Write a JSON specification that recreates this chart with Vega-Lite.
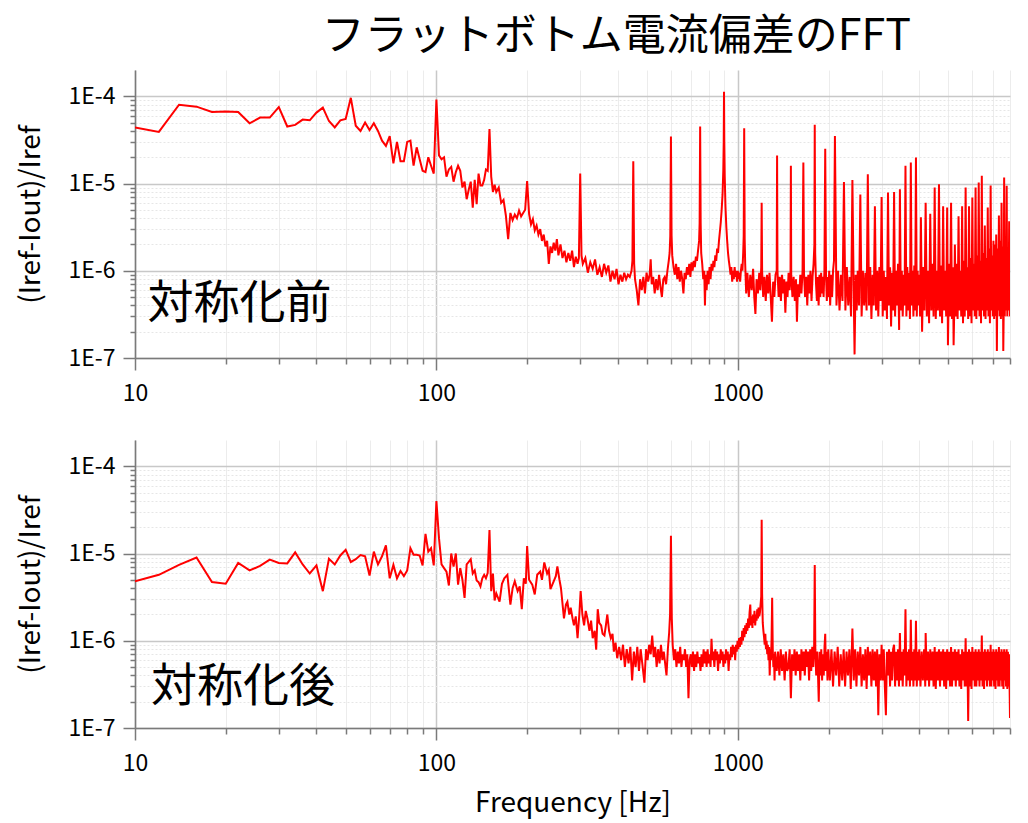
{
"$schema": "https://vega.github.io/schema/vega-lite/v6.json",
"background": "white",
"padding": {"left": 17, "top": 16, "right": 14, "bottom": 2},
"title": {"text": "フラットボトム電流偏差のFFT", "font": "Noto Sans CJK JP", "fontSize": 43, "fontWeight": "normal", "color": "#000000", "anchor": "middle", "dx": 102, "offset": 11},
"spacing": 35,
"datasets": {
"before": [
{"f":10,"v":44e-6},{"f":12,"v":39e-6},{"f":14,"v":80e-6},{"f":16,"v":76e-6},{"f":18,"v":66e-6},{"f":20,"v":67e-6},{"f":22,"v":66e-6},{"f":24,"v":49e-6},{"f":26,"v":57e-6},{"f":28,"v":57e-6},{"f":30,"v":75e-6},{"f":32,"v":45e-6},{"f":34,"v":47e-6},{"f":36,"v":54e-6},{"f":38,"v":53e-6},{"f":40,"v":65e-6},{"f":42,"v":74e-6},{"f":44,"v":52e-6},{"f":46,"v":44e-6},{"f":48,"v":53e-6},{"f":50,"v":55e-6},{"f":52,"v":96e-6},{"f":54,"v":46e-6},{"f":56,"v":40e-6},{"f":58,"v":50e-6},{"f":60,"v":41e-6},{"f":62,"v":49e-6},{"f":64,"v":40e-6},{"f":66,"v":31e-6},{"f":68,"v":27e-6},{"f":70,"v":35e-6},{"f":72,"v":17e-6},{"f":74,"v":30e-6},{"f":76,"v":18e-6},{"f":78,"v":18e-6},{"f":80,"v":30e-6},{"f":82,"v":31e-6},{"f":84,"v":16e-6},{"f":86,"v":26e-6},{"f":88,"v":19e-6},{"f":90,"v":14e-6},{"f":92,"v":13.5e-6},{"f":94,"v":20e-6},{"f":96,"v":16e-6},{"f":98,"v":13e-6},{"f":100,"v":92e-6},{"f":102,"v":21e-6},{"f":104,"v":19e-6},{"f":106,"v":20e-6},{"f":108,"v":12e-6},{"f":110,"v":14.5e-6},{"f":112,"v":15.5e-6},{"f":114,"v":10.5e-6},{"f":116,"v":13.5e-6},{"f":118,"v":16e-6},{"f":120,"v":14e-6},{"f":122,"v":9e-6},{"f":124,"v":10.5e-6},{"f":126,"v":6.6e-6},{"f":128,"v":8.5e-6},{"f":130,"v":10.5e-6},{"f":132,"v":5.3e-6},{"f":134,"v":11e-6},{"f":136,"v":5.8e-6},{"f":138,"v":13e-6},{"f":140,"v":9.5e-6},{"f":142,"v":9.5e-6},{"f":144,"v":11e-6},{"f":146,"v":14.5e-6},{"f":148,"v":14e-6},{"f":150,"v":42e-6},{"f":152,"v":12e-6},{"f":154,"v":8e-6},{"f":156,"v":9.7e-6},
{"f":158,"v":8e-6},{"f":161,"v":9e-6},{"f":164,"v":6e-6},{"f":167,"v":6.5e-6},{"f":170,"v":4.3e-6},{"f":173,"v":2.3e-6},{"f":176,"v":4.6e-6},{"f":179,"v":3.8e-6},{"f":182,"v":4.4e-6},{"f":185,"v":4e-6},{"f":188,"v":4.9e-6},{"f":191,"v":4.2e-6},{"f":194,"v":4.6e-6},{"f":197,"v":5e-6},{"f":200,"v":10.7e-6},{"f":203,"v":4.5e-6},{"f":206,"v":3.4e-6},{"f":209,"v":3.9e-6},{"f":212,"v":2.9e-6},{"f":215,"v":3.3e-6},{"f":218,"v":2.6e-6},{"f":221,"v":3e-6},{"f":224,"v":2.2e-6},{"f":227,"v":2.6e-6},{"f":230,"v":1.9e-6},{"f":233,"v":2.2e-6},{"f":236,"v":1.2e-6},{"f":239,"v":1.9e-6},{"f":242,"v":1.6e-6},{"f":245,"v":2.1e-6},{"f":248,"v":1.7e-6},{"f":251,"v":2.3e-6},{"f":254,"v":1.5e-6},{"f":258,"v":2e-6},{"f":262,"v":1.4e-6},{"f":266,"v":1.7e-6},{"f":270,"v":1.25e-6},{"f":274,"v":1.6e-6},{"f":278,"v":1.3e-6},{"f":282,"v":1.7e-6},{"f":286,"v":1.1e-6},{"f":290,"v":1.45e-6},{"f":294,"v":1.2e-6},{"f":297,"v":1.4e-6},{"f":300,"v":13e-6},{"f":303,"v":1.5e-6},
{"f":306,"v":1.2e-6},{"f":312,"v":1.4e-6},{"f":318,"v":0.95e-6},{"f":324,"v":1.25e-6},{"f":330,"v":1.05e-6},{"f":336,"v":1.35e-6},{"f":342,"v":0.9e-6},{"f":348,"v":1.1e-6},{"f":354,"v":0.85e-6},{"f":360,"v":1.2e-6},{"f":366,"v":0.95e-6},{"f":372,"v":1.15e-6},{"f":378,"v":0.75e-6},{"f":384,"v":1e-6},{"f":390,"v":0.8e-6},{"f":396,"v":1.05e-6},{"f":402,"v":0.7e-6},{"f":408,"v":0.9e-6},{"f":414,"v":0.75e-6},{"f":420,"v":0.95e-6},{"f":426,"v":0.8e-6},{"f":432,"v":0.9e-6},{"f":438,"v":0.85e-6},{"f":444,"v":1e-6},{"f":447,"v":1.3e-6},{"f":450,"v":18e-6},{"f":453,"v":1.2e-6},{"f":456,"v":0.8e-6},{"f":462,"v":0.6e-6},{"f":468,"v":0.4e-6},{"f":474,"v":0.8e-6},{"f":480,"v":0.6e-6},{"f":486,"v":0.85e-6},{"f":492,"v":0.55e-6},{"f":498,"v":0.95e-6},{"f":504,"v":0.75e-6},{"f":510,"v":0.9e-6},{"f":514,"v":1.35e-6},{"f":518,"v":0.7e-6},{"f":524,"v":0.85e-6},{"f":530,"v":0.55e-6},{"f":536,"v":0.8e-6},{"f":542,"v":0.6e-6},{"f":548,"v":0.9e-6},{"f":554,"v":0.65e-6},{"f":560,"v":0.5e-6},{"f":566,"v":0.8e-6},{"f":572,"v":0.85e-6},{"f":578,"v":0.7e-6},{"f":584,"v":1e-6},{"f":590,"v":1.3e-6},{"f":594,"v":1.6e-6},{"f":597,"v":2.5e-6},{"f":600,"v":34.5e-6},{"f":603,"v":2.5e-6},{"f":606,"v":1.5e-6},
{"f":612,"v":1.1e-6},{"f":618,"v":0.9e-6},{"f":624,"v":1.2e-6},{"f":630,"v":0.8e-6},{"f":636,"v":1.1e-6},{"f":642,"v":0.75e-6},{"f":648,"v":1e-6},{"f":654,"v":0.8e-6},{"f":660,"v":0.55e-6},{"f":666,"v":0.95e-6},{"f":672,"v":0.8e-6},{"f":678,"v":1.1e-6},{"f":684,"v":0.9e-6},{"f":690,"v":1.2e-6},{"f":696,"v":0.85e-6},{"f":702,"v":1.25e-6},{"f":708,"v":1e-6},{"f":714,"v":1.3e-6},{"f":720,"v":1.1e-6},{"f":726,"v":1.45e-6},{"f":732,"v":1.3e-6},{"f":738,"v":1.7e-6},{"f":744,"v":2.2e-6},{"f":747,"v":3.5e-6},{"f":750,"v":45e-6},{"f":753,"v":3.5e-6},{"f":756,"v":1.6e-6},{"f":762,"v":1.2e-6},{"f":768,"v":0.8e-6},{"f":774,"v":1e-6},{"f":778,"v":0.4e-6},{"f":782,"v":0.9e-6},{"f":788,"v":0.6e-6},{"f":794,"v":1e-6},{"f":800,"v":0.7e-6},{"f":806,"v":1.1e-6},{"f":812,"v":0.8e-6},{"f":818,"v":1.2e-6},{"f":824,"v":1e-6},{"f":830,"v":1.3e-6},{"f":836,"v":1.1e-6},{"f":842,"v":1.5e-6},{"f":848,"v":1.3e-6},{"f":854,"v":1.8e-6},{"f":860,"v":1.6e-6},{"f":866,"v":2.2e-6},{"f":872,"v":2.8e-6},{"f":878,"v":3.6e-6},{"f":884,"v":5e-6},{"f":890,"v":7.5e-6},{"f":895,"v":14e-6},{"f":898,"v":30e-6},{"f":900,"v":113e-6},{"f":902,"v":30e-6},{"f":905,"v":12e-6},{"f":910,"v":5.5e-6},{"f":916,"v":3.2e-6},{"f":922,"v":2.2e-6},{"f":928,"v":1.6e-6},{"f":934,"v":1.3e-6},{"f":940,"v":1.1e-6},{"f":946,"v":0.9e-6},{"f":952,"v":1.1e-6},{"f":958,"v":0.75e-6},{"f":964,"v":1e-6},{"f":970,"v":0.8e-6},{"f":976,"v":1.1e-6},{"f":982,"v":0.85e-6},{"f":988,"v":1e-6},{"f":994,"v":0.75e-6},{"f":1000,"v":1e-6},{"f":1006,"v":0.8e-6},{"f":1012,"v":0.95e-6},{"f":1018,"v":0.75e-6},{"f":1024,"v":1e-6},{"f":1030,"v":1.2e-6},{"f":1036,"v":1e-6},{"f":1042,"v":1.6e-6},{"f":1046,"v":2.5e-6},{"f":1050,"v":43e-6},{"f":1054,"v":2.3e-6},{"f":1058,"v":1.2e-6},
{"f":1066,"v":0.55e-6},{"f":1076,"v":0.95e-6},{"f":1088,"v":0.5e-6},{"f":1100,"v":0.9e-6},{"f":1112,"v":0.6e-6},{"f":1124,"v":1.05e-6},{"f":1134,"v":0.5e-6},{"f":1144,"v":0.32e-6},{"f":1154,"v":0.8e-6},{"f":1166,"v":0.55e-6},{"f":1178,"v":0.95e-6},{"f":1188,"v":0.6e-6},{"f":1196,"v":1.1e-6},{"f":1200,"v":6e-6},{"f":1204,"v":1e-6},{"f":1214,"v":0.5e-6},{"f":1226,"v":0.85e-6},{"f":1238,"v":0.45e-6},{"f":1250,"v":0.9e-6},{"f":1262,"v":0.55e-6},{"f":1274,"v":0.95e-6},{"f":1286,"v":0.5e-6},{"f":1298,"v":0.26e-6},{"f":1310,"v":0.75e-6},{"f":1322,"v":0.5e-6},{"f":1334,"v":0.9e-6},{"f":1346,"v":1e-6},{"f":1350,"v":21e-6},{"f":1354,"v":1e-6},{"f":1366,"v":0.5e-6},{"f":1378,"v":0.85e-6},{"f":1390,"v":0.45e-6},{"f":1402,"v":0.9e-6},{"f":1414,"v":0.55e-6},{"f":1426,"v":0.8e-6},{"f":1438,"v":0.33e-6},{"f":1450,"v":0.75e-6},{"f":1462,"v":0.5e-6},{"f":1474,"v":0.95e-6},{"f":1486,"v":0.6e-6},{"f":1496,"v":1e-6},{"f":1500,"v":16e-6},{"f":1504,"v":0.9e-6},{"f":1518,"v":0.5e-6},{"f":1532,"v":0.85e-6},{"f":1546,"v":0.45e-6},{"f":1560,"v":0.8e-6},{"f":1571,"v":0.26e-6},{"f":1584,"v":0.7e-6},{"f":1598,"v":0.5e-6},{"f":1612,"v":0.9e-6},{"f":1626,"v":0.55e-6},{"f":1640,"v":1e-6},{"f":1650,"v":17.4e-6},{"f":1658,"v":0.95e-6},{"f":1672,"v":0.5e-6},{"f":1686,"v":0.85e-6},{"f":1700,"v":0.4e-6},{"f":1714,"v":0.9e-6},{"f":1728,"v":0.55e-6},{"f":1742,"v":1e-6},{"f":1756,"v":0.45e-6},{"f":1770,"v":0.85e-6},{"f":1784,"v":1.2e-6},{"f":1795,"v":2e-6},{"f":1800,"v":47e-6},{"f":1806,"v":1.6e-6},{"f":1818,"v":0.7e-6},{"f":1830,"v":0.45e-6},{"f":1842,"v":0.85e-6},{"f":1854,"v":0.4e-6},{"f":1866,"v":0.9e-6},{"f":1878,"v":0.5e-6},{"f":1890,"v":0.95e-6},{"f":1902,"v":0.55e-6},{"f":1914,"v":0.85e-6},{"f":1926,"v":0.5e-6},{"f":1938,"v":1e-6},{"f":1950,"v":25e-6},{"f":1962,"v":0.9e-6},{"f":1974,"v":0.45e-6},{"f":1986,"v":0.85e-6},{"f":1998,"v":0.5e-6},
{"f":2010,"v":1e-6},{"f":2025,"v":0.4e-6},{"f":2040,"v":0.9e-6},{"f":2055,"v":0.5e-6},{"f":2070,"v":1e-6},{"f":2085,"v":1.3e-6},{"f":2100,"v":35e-6},{"f":2125,"v":0.4e-6},{"f":2150,"v":1e-6},{"f":2175,"v":0.35e-6},{"f":2200,"v":0.9e-6},{"f":2225,"v":0.45e-6},{"f":2250,"v":10.4e-6},{"f":2275,"v":0.35e-6},{"f":2300,"v":1.1e-6},{"f":2325,"v":0.4e-6},{"f":2350,"v":0.85e-6},{"f":2375,"v":0.3e-6},{"f":2400,"v":11e-6},{"f":2425,"v":0.5e-6},{"f":2440,"v":0.11e-6},{"f":2460,"v":0.9e-6},{"f":2480,"v":0.35e-6},{"f":2500,"v":1e-6},{"f":2525,"v":0.4e-6},{"f":2550,"v":7.5e-6},{"f":2575,"v":0.3e-6},{"f":2600,"v":1e-6},{"f":2625,"v":0.4e-6},{"f":2650,"v":0.95e-6},{"f":2675,"v":0.35e-6},{"f":2700,"v":12.8e-6},{"f":2725,"v":0.4e-6},{"f":2750,"v":1.1e-6},{"f":2775,"v":0.28e-6},{"f":2800,"v":0.9e-6},{"f":2825,"v":0.4e-6},{"f":2850,"v":5.5e-6},{"f":2875,"v":0.35e-6},{"f":2900,"v":1e-6},{"f":2925,"v":0.3e-6},{"f":2950,"v":1.1e-6},{"f":2975,"v":0.45e-6},{"f":3000,"v":7e-6},{"f":3025,"v":0.3e-6},{"f":3050,"v":1e-6},{"f":3075,"v":0.35e-6},{"f":3100,"v":0.85e-6},{"f":3125,"v":0.28e-6},{"f":3150,"v":7.9e-6},{"f":3175,"v":0.4e-6},{"f":3200,"v":1.1e-6},{"f":3225,"v":0.23e-6},{"f":3250,"v":0.95e-6},{"f":3275,"v":0.35e-6},{"f":3300,"v":8e-6},{"f":3325,"v":0.3e-6},{"f":3350,"v":1e-6},{"f":3375,"v":0.4e-6},{"f":3400,"v":1.2e-6},{"f":3430,"v":0.21e-6},{"f":3450,"v":8.6e-6},{"f":3475,"v":0.35e-6},{"f":3500,"v":1e-6},{"f":3525,"v":0.3e-6},{"f":3550,"v":0.9e-6},{"f":3575,"v":0.4e-6},{"f":3600,"v":16e-6},{"f":3625,"v":0.3e-6},{"f":3650,"v":1.1e-6},{"f":3675,"v":0.35e-6},{"f":3700,"v":0.95e-6},{"f":3725,"v":0.28e-6},{"f":3750,"v":17.4e-6},{"f":3775,"v":0.4e-6},{"f":3800,"v":1e-6},{"f":3825,"v":0.3e-6},{"f":3850,"v":1.15e-6},{"f":3875,"v":0.35e-6},{"f":3900,"v":19.8e-6},{"f":3925,"v":0.3e-6},{"f":3950,"v":1e-6},{"f":3975,"v":0.4e-6},{"f":4000,"v":0.9e-6},{"f":4025,"v":0.3e-6},{"f":4050,"v":4.1e-6},
{"f":4087,"v":0.2e-6},{"f":4125,"v":1.1e-6},{"f":4162,"v":0.35e-6},{"f":4200,"v":6e-6},{"f":4237,"v":0.3e-6},{"f":4275,"v":1e-6},{"f":4312,"v":0.25e-6},{"f":4350,"v":4.5e-6},{"f":4387,"v":0.35e-6},{"f":4425,"v":1.2e-6},{"f":4462,"v":0.3e-6},{"f":4500,"v":9e-6},{"f":4537,"v":0.28e-6},{"f":4575,"v":1e-6},{"f":4612,"v":0.35e-6},{"f":4650,"v":9.8e-6},{"f":4687,"v":0.3e-6},{"f":4725,"v":1.15e-6},{"f":4762,"v":0.25e-6},{"f":4800,"v":5.5e-6},{"f":4837,"v":0.35e-6},{"f":4875,"v":1e-6},{"f":4912,"v":0.3e-6},{"f":4950,"v":5.3e-6},{"f":4980,"v":0.14e-6},{"f":5025,"v":1.2e-6},{"f":5062,"v":0.3e-6},{"f":5100,"v":6e-6},{"f":5137,"v":0.28e-6},{"f":5175,"v":1.1e-6},{"f":5200,"v":0.14e-6},{"f":5225,"v":0.35e-6},{"f":5250,"v":2e-6},{"f":5287,"v":0.3e-6},{"f":5325,"v":1.2e-6},{"f":5362,"v":0.28e-6},{"f":5400,"v":4.2e-6},{"f":5437,"v":0.35e-6},{"f":5475,"v":1e-6},{"f":5512,"v":0.3e-6},{"f":5550,"v":5.5e-6},{"f":5587,"v":0.25e-6},{"f":5625,"v":1.3e-6},{"f":5662,"v":0.3e-6},{"f":5700,"v":9e-6},{"f":5737,"v":0.35e-6},{"f":5775,"v":1.1e-6},{"f":5812,"v":0.28e-6},{"f":5850,"v":5.5e-6},{"f":5887,"v":0.3e-6},{"f":5925,"v":1.4e-6},{"f":5962,"v":0.25e-6},{"f":6000,"v":6.9e-6},{"f":6037,"v":0.35e-6},{"f":6075,"v":1.2e-6},{"f":6112,"v":0.3e-6},{"f":6150,"v":9e-6},{"f":6187,"v":0.28e-6},{"f":6225,"v":1.5e-6},{"f":6262,"v":0.35e-6},{"f":6300,"v":10.3e-6},{"f":6337,"v":0.3e-6},{"f":6375,"v":1.3e-6},{"f":6412,"v":0.25e-6},{"f":6450,"v":12.3e-6},{"f":6487,"v":0.35e-6},{"f":6525,"v":1.6e-6},{"f":6562,"v":0.3e-6},{"f":6600,"v":3.3e-6},{"f":6637,"v":0.28e-6},{"f":6675,"v":1.4e-6},{"f":6712,"v":0.35e-6},{"f":6750,"v":5.3e-6},{"f":6787,"v":0.3e-6},{"f":6825,"v":1.8e-6},{"f":6862,"v":0.25e-6},{"f":6900,"v":9.5e-6},{"f":6937,"v":0.35e-6},{"f":6975,"v":1.5e-6},{"f":7012,"v":0.3e-6},{"f":7050,"v":2.2e-6},{"f":7087,"v":0.28e-6},{"f":7125,"v":2e-6},{"f":7162,"v":0.3e-6},{"f":7200,"v":2.6e-6},{"f":7237,"v":0.12e-6},{"f":7275,"v":1.8e-6},{"f":7312,"v":0.35e-6},{"f":7350,"v":4.3e-6},{"f":7387,"v":0.3e-6},{"f":7425,"v":2.2e-6},{"f":7462,"v":0.28e-6},{"f":7500,"v":6e-6},{"f":7537,"v":0.3e-6},{"f":7575,"v":1.9e-6},{"f":7600,"v":0.12e-6},{"f":7625,"v":0.35e-6},{"f":7650,"v":11.7e-6},{"f":7687,"v":0.3e-6},{"f":7725,"v":2e-6},{"f":7762,"v":0.35e-6},{"f":7800,"v":9.4e-6},{"f":7837,"v":0.3e-6},{"f":7875,"v":1.5e-6},{"f":7912,"v":0.35e-6},{"f":7950,"v":3.7e-6},{"f":8000,"v":0.3e-6}
],
"after": [
{"f":10,"v":4.8e-6},{"f":12,"v":5.7e-6},{"f":14,"v":7.4e-6},{"f":16,"v":9e-6},{"f":18,"v":4.7e-6},{"f":20,"v":4.5e-6},{"f":22,"v":7.8e-6},{"f":24,"v":6.4e-6},{"f":26,"v":7.2e-6},{"f":28,"v":8.5e-6},{"f":30,"v":7.8e-6},{"f":32,"v":7.7e-6},{"f":34,"v":10.3e-6},{"f":36,"v":7.5e-6},{"f":38,"v":5.9e-6},{"f":40,"v":7.3e-6},{"f":42,"v":3.7e-6},{"f":44,"v":8.7e-6},{"f":46,"v":7.5e-6},{"f":48,"v":9.5e-6},{"f":50,"v":11e-6},{"f":52,"v":8e-6},{"f":54,"v":8.6e-6},{"f":56,"v":9.6e-6},{"f":58,"v":9.3e-6},{"f":60,"v":5.6e-6},{"f":62,"v":10.5e-6},{"f":64,"v":7.5e-6},{"f":66,"v":9.3e-6},{"f":68,"v":12.4e-6},{"f":70,"v":5.2e-6},{"f":72,"v":7.4e-6},{"f":74,"v":5.2e-6},{"f":76,"v":6.3e-6},{"f":78,"v":5.5e-6},{"f":80,"v":6.4e-6},{"f":82,"v":11.5e-6},{"f":84,"v":9.7e-6},{"f":86,"v":9.7e-6},{"f":88,"v":9.5e-6},{"f":90,"v":7.3e-6},{"f":92,"v":16.8e-6},{"f":94,"v":10.5e-6},{"f":96,"v":11.5e-6},{"f":98,"v":7.3e-6},{"f":100,"v":40e-6},{"f":102,"v":15e-6},{"f":104,"v":7.5e-6},{"f":106,"v":6.8e-6},{"f":108,"v":6.2e-6},{"f":110,"v":4.3e-6},{"f":112,"v":10e-6},{"f":114,"v":7.1e-6},{"f":116,"v":10e-6},{"f":118,"v":4.4e-6},{"f":120,"v":6.8e-6},{"f":122,"v":5e-6},{"f":124,"v":3.1e-6},{"f":126,"v":7.5e-6},{"f":128,"v":8e-6},{"f":130,"v":8.6e-6},{"f":132,"v":5.9e-6},{"f":134,"v":6.4e-6},{"f":136,"v":4.9e-6},{"f":138,"v":4.7e-6},{"f":140,"v":4.2e-6},{"f":142,"v":5.2e-6},{"f":144,"v":5.7e-6},{"f":146,"v":5.2e-6},{"f":148,"v":6e-6},{"f":150,"v":18.6e-6},{"f":152,"v":3.7e-6},{"f":154,"v":5.9e-6},{"f":156,"v":2.9e-6},
{"f":158,"v":3.5e-6},{"f":162,"v":2.8e-6},{"f":165,"v":4.5e-6},{"f":168,"v":5.2e-6},{"f":172,"v":5.7e-6},{"f":176,"v":2.6e-6},{"f":179,"v":4e-6},{"f":182,"v":4.8e-6},{"f":186,"v":3.7e-6},{"f":189,"v":4.2e-6},{"f":192,"v":2.3e-6},{"f":195,"v":5.2e-6},{"f":198,"v":4.5e-6},{"f":200,"v":12.2e-6},{"f":203,"v":5e-6},{"f":208,"v":4.4e-6},{"f":212,"v":3.4e-6},{"f":216,"v":5.7e-6},{"f":221,"v":6.2e-6},{"f":224,"v":5e-6},{"f":228,"v":7.9e-6},{"f":233,"v":5.9e-6},{"f":236,"v":6.5e-6},{"f":239,"v":3.9e-6},{"f":245,"v":4.8e-6},{"f":249,"v":5.5e-6},{"f":252,"v":7.1e-6},{"f":256,"v":5e-6},{"f":259,"v":4e-6},{"f":265,"v":1.8e-6},{"f":269,"v":2.6e-6},{"f":272,"v":2.8e-6},{"f":276,"v":2e-6},{"f":279,"v":2.4e-6},{"f":283,"v":1.8e-6},{"f":286,"v":1.5e-6},{"f":290,"v":1.9e-6},{"f":294,"v":1.07e-6},{"f":298,"v":2e-6},{"f":301,"v":3.7e-6},{"f":305,"v":2e-6},{"f":309,"v":1.5e-6},{"f":313,"v":2.2e-6},{"f":317,"v":1.8e-6},{"f":322,"v":1.3e-6},{"f":326,"v":1.7e-6},{"f":330,"v":1.07e-6},{"f":335,"v":1.3e-6},{"f":339,"v":0.79e-6},{"f":343,"v":2.3e-6},{"f":347,"v":1.6e-6},{"f":352,"v":1.5e-6},{"f":356,"v":1.2e-6},{"f":361,"v":1.15e-6},{"f":365,"v":1.5e-6},{"f":369,"v":2e-6},{"f":374,"v":1.3e-6},{"f":379,"v":1.07e-6},{"f":384,"v":1.2e-6},{"f":388,"v":0.75e-6},{"f":393,"v":0.95e-6},{"f":398,"v":0.63e-6},
{"f":404,"v":0.85e-6},{"f":410,"v":0.6e-6},{"f":416,"v":0.9e-6},{"f":422,"v":0.5e-6},{"f":428,"v":0.8e-6},{"f":434,"v":0.55e-6},{"f":440,"v":0.85e-6},{"f":446,"v":0.35e-6},{"f":452,"v":0.75e-6},{"f":458,"v":0.5e-6},{"f":464,"v":0.85e-6},{"f":470,"v":0.45e-6},{"f":476,"v":0.8e-6},{"f":482,"v":0.55e-6},{"f":490,"v":0.33e-6},{"f":496,"v":0.8e-6},{"f":502,"v":0.6e-6},{"f":508,"v":0.9e-6},{"f":514,"v":0.7e-6},{"f":520,"v":1.15e-6},{"f":526,"v":0.65e-6},{"f":532,"v":0.85e-6},{"f":538,"v":0.5e-6},{"f":544,"v":0.8e-6},{"f":550,"v":0.55e-6},{"f":556,"v":0.9e-6},{"f":562,"v":0.6e-6},{"f":568,"v":0.75e-6},{"f":574,"v":0.55e-6},{"f":580,"v":0.4e-6},{"f":586,"v":0.8e-6},{"f":592,"v":1.25e-6},{"f":596,"v":2e-6},{"f":600,"v":16e-6},{"f":604,"v":1.8e-6},{"f":608,"v":0.9e-6},{"f":614,"v":0.6e-6},{"f":620,"v":0.8e-6},{"f":626,"v":0.5e-6},{"f":632,"v":0.75e-6},{"f":638,"v":0.55e-6},{"f":644,"v":0.85e-6},{"f":650,"v":0.5e-6},{"f":656,"v":0.7e-6},{"f":662,"v":0.6e-6},{"f":668,"v":0.8e-6},{"f":674,"v":0.5e-6},{"f":680,"v":0.7e-6},{"f":686,"v":0.22e-6},{"f":692,"v":0.6e-6},{"f":698,"v":0.7e-6},{"f":704,"v":0.5e-6},{"f":710,"v":0.75e-6},{"f":716,"v":0.45e-6},{"f":722,"v":0.7e-6},{"f":728,"v":0.5e-6},{"f":734,"v":0.75e-6},{"f":740,"v":0.55e-6},{"f":746,"v":0.65e-6},{"f":752,"v":0.45e-6},{"f":758,"v":0.7e-6},{"f":764,"v":0.5e-6},{"f":770,"v":0.8e-6},{"f":776,"v":0.55e-6},{"f":782,"v":0.75e-6},{"f":788,"v":0.5e-6},{"f":794,"v":0.8e-6},{"f":800,"v":0.55e-6},{"f":806,"v":0.7e-6},{"f":812,"v":0.5e-6},{"f":818,"v":1.05e-6},{"f":824,"v":0.6e-6},{"f":830,"v":0.75e-6},{"f":836,"v":0.5e-6},{"f":842,"v":0.8e-6},{"f":848,"v":0.6e-6},{"f":854,"v":0.75e-6},{"f":860,"v":0.45e-6},{"f":866,"v":0.7e-6},{"f":872,"v":0.55e-6},{"f":878,"v":0.8e-6},{"f":884,"v":0.6e-6},{"f":890,"v":0.75e-6},{"f":896,"v":0.5e-6},{"f":902,"v":0.7e-6},{"f":908,"v":0.55e-6},{"f":914,"v":0.8e-6},{"f":920,"v":0.6e-6},{"f":926,"v":0.75e-6},{"f":932,"v":0.45e-6},{"f":938,"v":0.7e-6},{"f":944,"v":0.6e-6},{"f":950,"v":0.85e-6},{"f":956,"v":0.65e-6},{"f":962,"v":0.9e-6},{"f":968,"v":0.7e-6},{"f":974,"v":0.85e-6},{"f":980,"v":0.6e-6},{"f":986,"v":0.9e-6},{"f":992,"v":0.75e-6},{"f":998,"v":1e-6},
{"f":1004,"v":0.8e-6},{"f":1010,"v":1.07e-6},{"f":1016,"v":0.85e-6},{"f":1022,"v":1.1e-6},{"f":1028,"v":0.9e-6},{"f":1034,"v":1.3e-6},{"f":1040,"v":1e-6},{"f":1046,"v":1.4e-6},{"f":1052,"v":1.1e-6},{"f":1058,"v":1.5e-6},{"f":1064,"v":1.2e-6},{"f":1070,"v":1.6e-6},{"f":1076,"v":1.3e-6},{"f":1082,"v":1.8e-6},{"f":1088,"v":1.4e-6},{"f":1094,"v":2.1e-6},{"f":1100,"v":2.6e-6},{"f":1106,"v":1.5e-6},{"f":1112,"v":1.9e-6},{"f":1118,"v":1.4e-6},{"f":1124,"v":2e-6},{"f":1130,"v":1.6e-6},{"f":1136,"v":2.2e-6},{"f":1142,"v":1.5e-6},{"f":1148,"v":2e-6},{"f":1154,"v":1.7e-6},{"f":1160,"v":2.3e-6},{"f":1166,"v":1.8e-6},{"f":1172,"v":2.4e-6},{"f":1178,"v":1.9e-6},{"f":1184,"v":2.1e-6},{"f":1190,"v":2.6e-6},{"f":1196,"v":3.2e-6},{"f":1200,"v":24.3e-6},{"f":1204,"v":3.5e-6},{"f":1210,"v":1.6e-6},{"f":1216,"v":1.3e-6},{"f":1222,"v":1.1e-6},{"f":1228,"v":0.9e-6},{"f":1234,"v":1.2e-6},{"f":1240,"v":0.8e-6},{"f":1246,"v":1e-6},{"f":1252,"v":0.7e-6},{"f":1258,"v":0.9e-6},{"f":1264,"v":0.6e-6},{"f":1270,"v":0.85e-6},{"f":1276,"v":0.4e-6},{"f":1282,"v":0.8e-6},{"f":1288,"v":0.6e-6},{"f":1294,"v":1e-6},{"f":1300,"v":3.1e-6},{"f":1306,"v":0.8e-6},{"f":1312,"v":0.5e-6},{"f":1318,"v":0.7e-6},{"f":1324,"v":0.35e-6},{"f":1330,"v":0.75e-6},
{"f":1346,"v":0.45e-6},{"f":1360,"v":0.75e-6},{"f":1374,"v":0.4e-6},{"f":1388,"v":0.8e-6},{"f":1402,"v":0.45e-6},{"f":1416,"v":0.7e-6},{"f":1430,"v":0.35e-6},{"f":1444,"v":0.75e-6},{"f":1458,"v":0.45e-6},{"f":1472,"v":0.5e-6},{"f":1486,"v":0.8e-6},{"f":1500,"v":0.22e-6},{"f":1514,"v":0.7e-6},{"f":1528,"v":0.45e-6},{"f":1542,"v":0.8e-6},{"f":1556,"v":0.4e-6},{"f":1570,"v":0.75e-6},{"f":1584,"v":0.45e-6},{"f":1598,"v":0.7e-6},{"f":1612,"v":0.35e-6},{"f":1626,"v":0.8e-6},{"f":1640,"v":0.45e-6},{"f":1654,"v":0.75e-6},{"f":1668,"v":0.4e-6},{"f":1682,"v":0.8e-6},{"f":1696,"v":0.5e-6},{"f":1710,"v":0.75e-6},{"f":1724,"v":0.35e-6},{"f":1738,"v":0.8e-6},{"f":1752,"v":0.45e-6},{"f":1766,"v":0.85e-6},{"f":1780,"v":0.5e-6},{"f":1792,"v":0.9e-6},{"f":1800,"v":7.4e-6},{"f":1808,"v":0.8e-6},{"f":1820,"v":0.4e-6},{"f":1832,"v":0.75e-6},{"f":1844,"v":0.45e-6},{"f":1856,"v":0.2e-6},{"f":1868,"v":0.75e-6},{"f":1880,"v":0.4e-6},{"f":1892,"v":0.8e-6},{"f":1904,"v":0.35e-6},{"f":1916,"v":0.7e-6},{"f":1928,"v":0.4e-6},{"f":1940,"v":0.85e-6},{"f":1950,"v":1.2e-6},{"f":1960,"v":0.45e-6},{"f":1972,"v":0.75e-6},{"f":1984,"v":0.35e-6},{"f":1996,"v":0.8e-6},
{"f":2020,"v":0.35e-6},{"f":2045,"v":0.8e-6},{"f":2070,"v":0.3e-6},{"f":2095,"v":0.75e-6},{"f":2120,"v":0.4e-6},{"f":2145,"v":0.85e-6},{"f":2170,"v":0.3e-6},{"f":2195,"v":0.7e-6},{"f":2220,"v":0.35e-6},{"f":2245,"v":0.8e-6},{"f":2270,"v":0.3e-6},{"f":2295,"v":0.75e-6},{"f":2320,"v":0.4e-6},{"f":2345,"v":0.8e-6},{"f":2370,"v":0.28e-6},{"f":2400,"v":1.38e-6},{"f":2425,"v":0.35e-6},{"f":2450,"v":0.8e-6},{"f":2475,"v":0.3e-6},{"f":2500,"v":0.75e-6},{"f":2525,"v":0.4e-6},{"f":2550,"v":0.85e-6},{"f":2575,"v":0.3e-6},{"f":2600,"v":0.7e-6},{"f":2625,"v":0.35e-6},{"f":2650,"v":0.8e-6},{"f":2675,"v":0.28e-6},{"f":2700,"v":0.85e-6},{"f":2725,"v":0.4e-6},{"f":2750,"v":0.75e-6},{"f":2775,"v":0.3e-6},{"f":2800,"v":0.8e-6},{"f":2825,"v":0.35e-6},{"f":2850,"v":0.75e-6},{"f":2875,"v":0.3e-6},{"f":2900,"v":0.8e-6},{"f":2925,"v":0.14e-6},{"f":2950,"v":0.7e-6},{"f":2975,"v":0.35e-6},{"f":3000,"v":0.9e-6},{"f":3025,"v":0.35e-6},{"f":3050,"v":0.8e-6},{"f":3075,"v":0.3e-6},{"f":3100,"v":0.14e-6},{"f":3125,"v":0.75e-6},{"f":3150,"v":0.4e-6},{"f":3175,"v":0.8e-6},{"f":3200,"v":0.3e-6},{"f":3225,"v":0.75e-6},{"f":3250,"v":0.35e-6},{"f":3275,"v":0.8e-6},{"f":3300,"v":0.9e-6},{"f":3325,"v":0.3e-6},{"f":3350,"v":0.75e-6},{"f":3375,"v":0.35e-6},{"f":3400,"v":0.8e-6},{"f":3425,"v":0.3e-6},{"f":3450,"v":1.23e-6},{"f":3475,"v":0.35e-6},{"f":3500,"v":0.75e-6},{"f":3525,"v":0.3e-6},{"f":3550,"v":0.8e-6},{"f":3575,"v":0.4e-6},{"f":3600,"v":2.3e-6},{"f":3625,"v":0.3e-6},{"f":3650,"v":0.75e-6},{"f":3675,"v":0.35e-6},{"f":3700,"v":0.8e-6},{"f":3725,"v":0.3e-6},{"f":3750,"v":1.74e-6},{"f":3775,"v":0.35e-6},{"f":3800,"v":0.75e-6},{"f":3825,"v":0.3e-6},{"f":3850,"v":0.8e-6},{"f":3875,"v":0.35e-6},{"f":3900,"v":1.7e-6},{"f":3925,"v":0.3e-6},{"f":3950,"v":0.75e-6},{"f":3975,"v":0.35e-6},{"f":4000,"v":0.8e-6},
{"f":4037,"v":0.3e-6},{"f":4075,"v":0.75e-6},{"f":4112,"v":0.35e-6},{"f":4150,"v":0.8e-6},{"f":4187,"v":0.3e-6},{"f":4200,"v":1.23e-6},{"f":4237,"v":0.35e-6},{"f":4275,"v":0.75e-6},{"f":4312,"v":0.3e-6},{"f":4350,"v":0.8e-6},{"f":4387,"v":0.35e-6},{"f":4425,"v":0.75e-6},{"f":4462,"v":0.3e-6},{"f":4500,"v":0.85e-6},{"f":4537,"v":0.28e-6},{"f":4575,"v":0.75e-6},{"f":4612,"v":0.35e-6},{"f":4650,"v":0.8e-6},{"f":4687,"v":0.3e-6},{"f":4725,"v":0.75e-6},{"f":4762,"v":0.35e-6},{"f":4800,"v":0.8e-6},{"f":4837,"v":0.3e-6},{"f":4875,"v":0.75e-6},{"f":4912,"v":0.28e-6},{"f":4950,"v":0.8e-6},{"f":4987,"v":0.35e-6},{"f":5025,"v":0.75e-6},{"f":5062,"v":0.3e-6},{"f":5100,"v":0.85e-6},{"f":5137,"v":0.3e-6},{"f":5175,"v":0.75e-6},{"f":5212,"v":0.35e-6},{"f":5250,"v":0.8e-6},{"f":5287,"v":0.3e-6},{"f":5325,"v":0.75e-6},{"f":5362,"v":0.35e-6},{"f":5400,"v":0.8e-6},{"f":5437,"v":0.3e-6},{"f":5475,"v":0.7e-6},{"f":5512,"v":0.28e-6},{"f":5550,"v":0.8e-6},{"f":5587,"v":0.35e-6},{"f":5625,"v":0.75e-6},{"f":5662,"v":0.3e-6},{"f":5700,"v":1.07e-6},{"f":5737,"v":0.3e-6},{"f":5775,"v":0.75e-6},{"f":5812,"v":0.12e-6},{"f":5850,"v":0.8e-6},{"f":5887,"v":0.3e-6},{"f":5925,"v":0.75e-6},{"f":5962,"v":0.28e-6},{"f":6000,"v":0.85e-6},{"f":6037,"v":0.35e-6},{"f":6075,"v":0.75e-6},{"f":6112,"v":0.3e-6},{"f":6150,"v":0.8e-6},{"f":6187,"v":0.3e-6},{"f":6225,"v":0.75e-6},{"f":6262,"v":0.35e-6},{"f":6300,"v":0.8e-6},{"f":6337,"v":0.3e-6},{"f":6375,"v":0.75e-6},{"f":6412,"v":0.35e-6},{"f":6450,"v":1.15e-6},{"f":6487,"v":0.3e-6},{"f":6525,"v":0.75e-6},{"f":6562,"v":0.28e-6},{"f":6600,"v":0.8e-6},{"f":6637,"v":0.35e-6},{"f":6675,"v":0.75e-6},{"f":6712,"v":0.3e-6},{"f":6750,"v":0.8e-6},{"f":6787,"v":0.35e-6},{"f":6825,"v":0.75e-6},{"f":6862,"v":0.3e-6},{"f":6900,"v":0.9e-6},{"f":6937,"v":0.3e-6},{"f":6975,"v":0.75e-6},{"f":7012,"v":0.35e-6},{"f":7050,"v":0.8e-6},{"f":7087,"v":0.3e-6},{"f":7125,"v":0.75e-6},{"f":7162,"v":0.28e-6},{"f":7200,"v":0.8e-6},{"f":7237,"v":0.35e-6},{"f":7275,"v":0.75e-6},{"f":7312,"v":0.3e-6},{"f":7350,"v":0.85e-6},{"f":7387,"v":0.3e-6},{"f":7425,"v":0.75e-6},{"f":7462,"v":0.35e-6},{"f":7500,"v":0.8e-6},{"f":7537,"v":0.3e-6},{"f":7575,"v":0.75e-6},{"f":7612,"v":0.28e-6},{"f":7650,"v":0.8e-6},{"f":7687,"v":0.35e-6},{"f":7725,"v":0.75e-6},{"f":7762,"v":0.3e-6},{"f":7800,"v":0.8e-6},{"f":7837,"v":0.28e-6},{"f":7875,"v":0.75e-6},{"f":7912,"v":0.3e-6},{"f":7950,"v":0.7e-6},{"f":8000,"v":0.13e-6}
]
},
"vconcat": [
{
"width": 875, "height": 288,
"layer": [
{"data": {"name": "before"},
 "mark": {"type": "line", "color": "#ff0000", "strokeWidth": 2, "clip": true},
 "encoding": {
  "x": {"field": "f", "type": "quantitative", "title": null, "scale": {"type": "log", "domain": [10, 8000], "nice": false},
   "axis": {"values": [10,20,30,40,50,60,70,80,90,100,200,300,400,500,600,700,800,900,1000,2000,3000,4000,5000,6000,7000,8000],
    "labelExpr": "abs(log(datum.value)/LN10-round(log(datum.value)/LN10))<0.01 ? format(datum.value,'d') : ''",
    "grid": true,
    "gridColor": {"condition": {"test": "abs(log(datum.value)/LN10-round(log(datum.value)/LN10))<0.01", "value": "#c8c8c8"}, "value": "#ececec"},
    "gridWidth": {"condition": {"test": "abs(log(datum.value)/LN10-round(log(datum.value)/LN10))<0.01", "value": 1.5}, "value": 1},
    "tickSize": {"condition": {"test": "abs(log(datum.value)/LN10-round(log(datum.value)/LN10))<0.01", "value": 12}, "value": 6},
    "labelPadding": 12, "labelFlush": false, "labelOverlap": false}},
  "y": {"field": "v", "type": "quantitative", "title": "(Iref-Iout)/Iref", "scale": {"type": "log", "domain": [1e-7, 2e-4], "nice": false},
   "axis": {"values": [1e-7,2e-7,3e-7,4e-7,5e-7,6e-7,7e-7,8e-7,9e-7,1e-6,2e-6,3e-6,4e-6,5e-6,6e-6,7e-6,8e-6,9e-6,1e-5,2e-5,3e-5,4e-5,5e-5,6e-5,7e-5,8e-5,9e-5,1e-4],
    "labelExpr": "abs(log(datum.value)/LN10-round(log(datum.value)/LN10))<0.01 ? '1E' + round(log(datum.value)/LN10) : ''",
    "grid": true,
    "gridColor": {"condition": {"test": "abs(log(datum.value)/LN10-round(log(datum.value)/LN10))<0.01", "value": "#c8c8c8"}, "value": "#e6e6e6"},
    "gridWidth": {"condition": {"test": "abs(log(datum.value)/LN10-round(log(datum.value)/LN10))<0.01", "value": 1.5}, "value": 1},
    "gridDash": {"condition": {"test": "abs(log(datum.value)/LN10-round(log(datum.value)/LN10))<0.01", "value": []}, "value": [2, 2]},
    "tickSize": {"condition": {"test": "abs(log(datum.value)/LN10-round(log(datum.value)/LN10))<0.01", "value": 12}, "value": 5},
    "labelPadding": 8, "labelOverlap": false, "titlePadding": 22}}
 }},
{"data": {"values": [{"f": 11, "v": 4.2e-7, "label": "対称化前"}]},
 "mark": {"type": "text", "align": "left", "baseline": "middle", "font": "Noto Sans CJK JP", "fontSize": 46, "color": "#000000"},
 "encoding": {
  "x": {"field": "f", "type": "quantitative", "title": null},
  "y": {"field": "v", "type": "quantitative", "title": "(Iref-Iout)/Iref"},
  "text": {"field": "label"}
 }}
]
},
{
"width": 875, "height": 288,
"layer": [
{"data": {"name": "after"},
 "mark": {"type": "line", "color": "#ff0000", "strokeWidth": 2, "clip": true},
 "encoding": {
  "x": {"field": "f", "type": "quantitative", "title": "Frequency [Hz]", "scale": {"type": "log", "domain": [10, 8000], "nice": false},
   "axis": {"values": [10,20,30,40,50,60,70,80,90,100,200,300,400,500,600,700,800,900,1000,2000,3000,4000,5000,6000,7000,8000],
    "labelExpr": "abs(log(datum.value)/LN10-round(log(datum.value)/LN10))<0.01 ? format(datum.value,'d') : ''",
    "grid": true,
    "gridColor": {"condition": {"test": "abs(log(datum.value)/LN10-round(log(datum.value)/LN10))<0.01", "value": "#c8c8c8"}, "value": "#ececec"},
    "gridWidth": {"condition": {"test": "abs(log(datum.value)/LN10-round(log(datum.value)/LN10))<0.01", "value": 1.5}, "value": 1},
    "tickSize": {"condition": {"test": "abs(log(datum.value)/LN10-round(log(datum.value)/LN10))<0.01", "value": 12}, "value": 6},
    "labelPadding": 12, "labelFlush": false, "labelOverlap": false, "titlePadding": 14}},
  "y": {"field": "v", "type": "quantitative", "title": "(Iref-Iout)/Iref", "scale": {"type": "log", "domain": [1e-7, 2e-4], "nice": false},
   "axis": {"values": [1e-7,2e-7,3e-7,4e-7,5e-7,6e-7,7e-7,8e-7,9e-7,1e-6,2e-6,3e-6,4e-6,5e-6,6e-6,7e-6,8e-6,9e-6,1e-5,2e-5,3e-5,4e-5,5e-5,6e-5,7e-5,8e-5,9e-5,1e-4],
    "labelExpr": "abs(log(datum.value)/LN10-round(log(datum.value)/LN10))<0.01 ? '1E' + round(log(datum.value)/LN10) : ''",
    "grid": true,
    "gridColor": {"condition": {"test": "abs(log(datum.value)/LN10-round(log(datum.value)/LN10))<0.01", "value": "#c8c8c8"}, "value": "#e6e6e6"},
    "gridWidth": {"condition": {"test": "abs(log(datum.value)/LN10-round(log(datum.value)/LN10))<0.01", "value": 1.5}, "value": 1},
    "gridDash": {"condition": {"test": "abs(log(datum.value)/LN10-round(log(datum.value)/LN10))<0.01", "value": []}, "value": [2, 2]},
    "tickSize": {"condition": {"test": "abs(log(datum.value)/LN10-round(log(datum.value)/LN10))<0.01", "value": 12}, "value": 5},
    "labelPadding": 8, "labelOverlap": false, "titlePadding": 22}}
 }},
{"data": {"values": [{"f": 11.3, "v": 2.95e-7, "label": "対称化後"}]},
 "mark": {"type": "text", "align": "left", "baseline": "middle", "font": "Noto Sans CJK JP", "fontSize": 46, "color": "#000000"},
 "encoding": {
  "x": {"field": "f", "type": "quantitative", "title": "Frequency [Hz]"},
  "y": {"field": "v", "type": "quantitative", "title": "(Iref-Iout)/Iref"},
  "text": {"field": "label"}
 }}
]
}
],
"config": {
 "view": {"stroke": null},
 "axis": {"labelFont": "Noto Sans CJK JP", "labelFontSize": 23, "labelColor": "#000000", "titleFont": "Noto Sans CJK JP", "titleFontSize": 28, "titleFontWeight": "normal", "titleColor": "#000000", "domainColor": "#7a7a7a", "domainWidth": 1.5, "tickColor": "#7a7a7a", "tickWidth": 1.5}
}
}
